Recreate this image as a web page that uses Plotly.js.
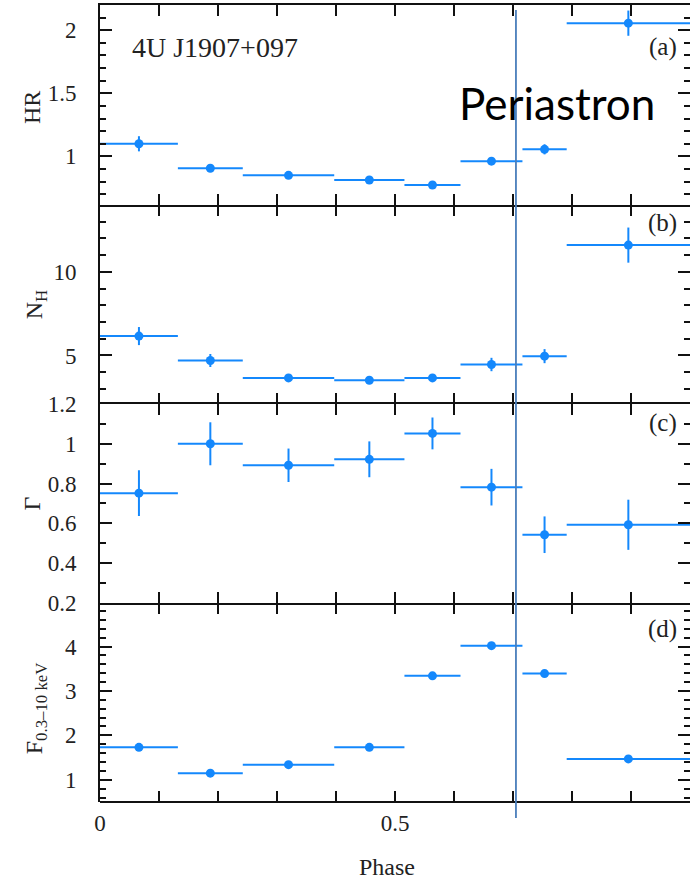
<!DOCTYPE html>
<html>
<head>
<meta charset="utf-8">
<script src="https://cdn.plot.ly/plotly-3.0.1.min.js"></script>
<style>html,body{margin:0;padding:0;background:#fff;}#chart{width:690px;height:885px;}</style>
</head>
<body>
<div id="chart"></div>
<script>
// Orbital phase bins (centres and half-widths)
var phase    = [0.066, 0.187, 0.3195, 0.4565, 0.5635, 0.6635, 0.7535, 0.8955];
var phaseErr = [0.066, 0.055, 0.0775, 0.0595, 0.0475, 0.0525, 0.0375, 0.1045];

// (a) hardness ratio
var hr    = [1.10, 0.906, 0.85, 0.813, 0.773, 0.962, 1.056, 2.056];
var hrErr = [0.06, 0.02, 0.02, 0.02, 0.02, 0.03, 0.04, 0.10];
// (b) column density N_H
var nh    = [6.16, 4.70, 3.66, 3.52, 3.66, 4.46, 4.96, 11.6];
var nhErr = [0.54, 0.39, 0.2, 0.2, 0.2, 0.40, 0.42, 1.05];
// (c) photon index
var gamma    = [0.752, 1.00, 0.892, 0.922, 1.052, 0.782, 0.543, 0.593];
var gammaErr = [0.115, 0.108, 0.084, 0.09, 0.08, 0.092, 0.092, 0.126];
// (d) flux 0.3-10 keV
var flux    = [1.73, 1.15, 1.34, 1.73, 3.34, 4.02, 3.39, 1.47];
var fluxErr = [0.05, 0.05, 0.05, 0.05, 0.05, 0.08, 0.06, 0.05];

var periastronPhase = 0.705;
var panelLabels = ['(a)', '(b)', '(c)', '(d)'];

var blue = '#1488fc';
var serif = 'Liberation Serif';
var frame = '#111';

function trace(y, yerr, xa, ya) {
  return {
    type: 'scatter', mode: 'markers', x: phase, y: y, xaxis: xa, yaxis: ya,
    marker: {color: blue, size: 9, symbol: 'circle'},
    error_x: {type: 'data', array: phaseErr, visible: true, color: blue, thickness: 2, width: 0},
    error_y: {type: 'data', array: yerr, visible: true, color: blue, thickness: 2, width: 0},
    showlegend: false, hoverinfo: 'x+y'
  };
}

var data = [
  trace(hr, hrErr, 'x', 'y'),
  trace(nh, nhErr, 'x2', 'y2'),
  trace(gamma, gammaErr, 'x3', 'y3'),
  trace(flux, fluxErr, 'x4', 'y4')
];

var tickFont = {family: serif, size: 23, color: '#222'};

function xax(anchor, showLabels, showLine) {
  return {
    anchor: anchor, domain: [0, 1], range: [0, 1],
    showline: showLine, linecolor: frame, linewidth: 2, mirror: 'allticks',
    ticks: 'inside', ticklen: 11, tickwidth: 2, tickcolor: frame,
    dtick: 0.5, tick0: 0,
    minor: {dtick: 0.1, ticks: 'inside', ticklen: 11, tickwidth: 2, tickcolor: frame},
    showticklabels: showLabels, tickfont: tickFont, ticklabelstandoff: 5,
    showgrid: false, zeroline: false
  };
}
function yax(anchor, domain, range, dtick, minorDtick) {
  return {
    anchor: anchor, domain: domain, range: range,
    showline: true, linecolor: frame, linewidth: 2, mirror: 'allticks',
    ticks: 'inside', ticklen: 12, tickwidth: 2, tickcolor: frame,
    dtick: dtick,
    minor: {dtick: minorDtick, ticks: 'inside', ticklen: 6, tickwidth: 2, tickcolor: frame},
    tickfont: tickFont, ticklabelstandoff: 17,
    showgrid: false, zeroline: false
  };
}

var D = [[0.7491, 1], [0.4994, 0.7491], [0.2497, 0.4994], [0, 0.2497]];

var ann = [];
function yTitle(text, y, x) {
  ann.push({xref: 'paper', yref: 'paper', x: x, y: y, text: text, textangle: -90,
    showarrow: false, xanchor: 'center', yanchor: 'middle',
    font: {family: serif, size: 24, color: '#222'}});
}
yTitle('HR', 0.872, -0.1153);
yTitle('N<sub>H</sub>', 0.6236, -0.108);
yTitle('Γ', 0.3745, -0.1153);
yTitle('F<sub>0.3–10 keV</sub>', 0.1179, -0.108);

ann.push({xref: 'paper', yref: 'paper', x: 0.4864, y: -0.0816, text: 'Phase', showarrow: false,
  xanchor: 'center', yanchor: 'middle', font: {family: serif, size: 24, color: '#222'}});

ann.push({xref: 'paper', yref: 'paper', x: 0.05, y: 0.947, text: '4U J1907+097', showarrow: false,
  xanchor: 'left', yanchor: 'middle', font: {family: serif, size: 28, color: '#222'}});

var labelY = [0.947, 0.7265, 0.4755, 0.2175];
for (var i = 0; i < 4; i++) {
  ann.push({xref: 'paper', yref: 'paper', x: 0.981, y: labelY[i], text: panelLabels[i], showarrow: false,
    xanchor: 'right', yanchor: 'middle', font: {family: serif, size: 25, color: '#222'}});
}

ann.push({xref: 'x', yref: 'paper', x: 0.605, y: 0.877, text: 'Periastron', showarrow: false,
  xanchor: 'left', yanchor: 'middle', font: {family: 'Lato', size: 44, color: '#000'}});

var layout = {
  width: 690, height: 885,
  margin: {l: 100, r: 0, t: 5, b: 83},
  paper_bgcolor: '#fff', plot_bgcolor: '#fff',
  xaxis: xax('y', false, true),
  xaxis2: xax('y2', false, false),
  xaxis3: xax('y3', false, true),
  xaxis4: xax('y4', true, false),
  yaxis: yax('x', D[0], [0.615, 2.2], 0.5, 0.1),
  yaxis2: yax('x2', D[1], [2.1, 14], 5, 1),
  yaxis3: yax('x3', D[2], [0.2, 1.2], 0.2, 0.1),
  yaxis4: yax('x4', D[3], [0.5, 4.98], 1, 0.2),
  annotations: ann,
  shapes: [
    {type: 'line', xref: 'paper', yref: 'paper', x0: 0, x1: 1, y0: D[3][0], y1: D[3][0],
      line: {color: frame, width: 2}},
    {type: 'line', xref: 'x', yref: 'paper', x0: periastronPhase, x1: periastronPhase,
      y0: -0.02, y1: 0.9937, line: {color: '#4a7ebb', width: 1.8}}
  ]
};

Plotly.newPlot('chart', data, layout, {displayModeBar: false, staticPlot: true});
</script>
</body>
</html>
